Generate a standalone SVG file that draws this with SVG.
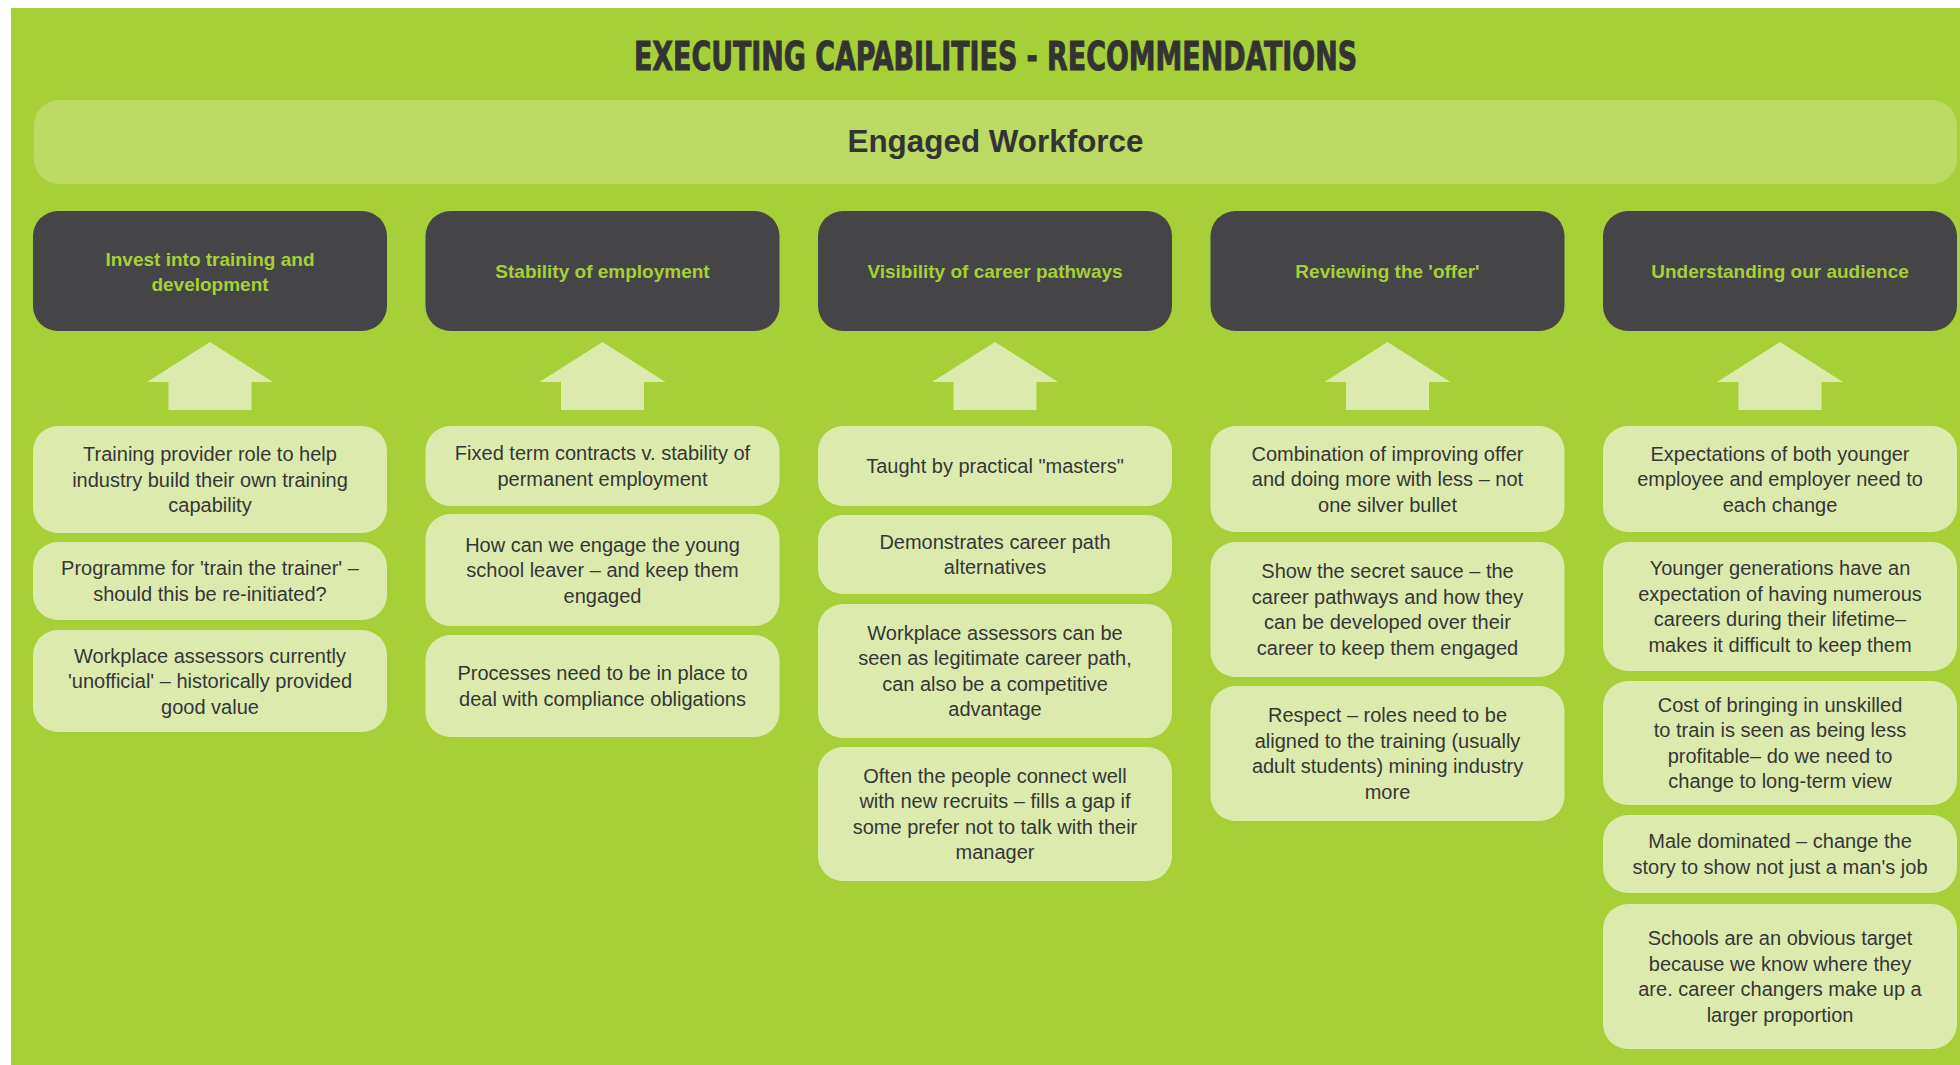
<svg xmlns="http://www.w3.org/2000/svg" xmlns:xlink="http://www.w3.org/1999/xlink" width="1960" height="1065" viewBox="0 0 1960 1065">
<style>
.bg{fill:#a6cf38}
.band{fill:#bbd963}
.hd{fill:#454547}
.lt{fill:#dcebad}
.arr{fill:#dcebad}
.title{font-family:"Liberation Sans Narrow","DejaVu Sans Condensed","Liberation Sans",sans-serif;font-weight:bold;font-size:39px;fill:#333333;stroke:#333333;stroke-width:0.9}
.band-t{font-family:"Liberation Sans",Arial,sans-serif;font-weight:bold;font-size:31px;fill:#333333}
.ht{font-family:"Liberation Sans",Arial,sans-serif;font-weight:bold;font-size:19px;fill:#a6cf38}
.bt{font-family:"Liberation Sans",Arial,sans-serif;font-size:20px;fill:#363636}
text{text-anchor:middle}
</style>
<defs>
<path id="up" d="M0,342 L63,382 L41.5,382 L41.5,410 L-41.5,410 L-41.5,382 L-63,382 Z"/>
</defs>
<rect x="0" y="0" width="1960" height="1065" fill="#ffffff"/>
<rect class="bg" x="11" y="8" width="1949" height="1057"/>
<g id="title">
<text class="title" x="995.5" y="70" textLength="723" lengthAdjust="spacingAndGlyphs">EXECUTING CAPABILITIES - RECOMMENDATIONS</text>
</g>
<g id="engaged-workforce">
<rect class="band" x="34" y="100" width="1923" height="84" rx="25"/>
<text class="band-t" x="995.5" y="152" textLength="296" lengthAdjust="spacingAndGlyphs">Engaged Workforce</text>
</g>
<g id="connectors">
<use xlink:href="#up" class="arr" x="210"/>
<use xlink:href="#up" class="arr" x="602.5"/>
<use xlink:href="#up" class="arr" x="995"/>
<use xlink:href="#up" class="arr" x="1387.5"/>
<use xlink:href="#up" class="arr" x="1780"/>
</g>
<g id="col1">
<g id="h1"><rect class="hd" x="33" y="211" width="354" height="120" rx="25"/>
<text class="ht" x="210" y="266">Invest into training and</text><text class="ht" x="210" y="291">development</text></g>
<g id="c1b1"><rect class="lt" x="33" y="426" width="354" height="107" rx="25"/>
<text class="bt" x="210" y="461">Training provider role to help</text>
<text class="bt" x="210" y="486.5">industry build their own training</text>
<text class="bt" x="210" y="512">capability</text></g>
<g id="c1b2"><rect class="lt" x="33" y="542" width="354" height="78" rx="25"/>
<text class="bt" x="210" y="575.3">Programme for 'train the trainer' –</text>
<text class="bt" x="210" y="600.8">should this be re-initiated?</text></g>
<g id="c1b3"><rect class="lt" x="33" y="630" width="354" height="102" rx="25"/>
<text class="bt" x="210" y="662.5">Workplace assessors currently</text>
<text class="bt" x="210" y="688">'unofficial' – historically provided</text>
<text class="bt" x="210" y="713.5">good value</text></g>
</g>
<g id="col2">
<g id="h2"><rect class="hd" x="425.5" y="211" width="354" height="120" rx="25"/>
<text class="ht" x="602.5" y="278">Stability of employment</text></g>
<g id="c2b1"><rect class="lt" x="425.5" y="426" width="354" height="80" rx="25"/>
<text class="bt" x="602.5" y="460.3">Fixed term contracts v. stability of</text>
<text class="bt" x="602.5" y="485.8">permanent employment</text></g>
<g id="c2b2"><rect class="lt" x="425.5" y="514" width="354" height="112" rx="25"/>
<text class="bt" x="602.5" y="551.5">How can we engage the young</text>
<text class="bt" x="602.5" y="577">school leaver – and keep them</text>
<text class="bt" x="602.5" y="602.5">engaged</text></g>
<g id="c2b3"><rect class="lt" x="425.5" y="635" width="354" height="102" rx="25"/>
<text class="bt" x="602.5" y="680.3">Processes need to be in place to</text>
<text class="bt" x="602.5" y="705.8">deal with compliance obligations</text></g>
</g>
<g id="col3">
<g id="h3"><rect class="hd" x="818" y="211" width="354" height="120" rx="25"/>
<text class="ht" x="995" y="278">Visibility of career pathways</text></g>
<g id="c3b1"><rect class="lt" x="818" y="426" width="354" height="80" rx="25"/>
<text class="bt" x="995" y="473">Taught by practical "masters"</text></g>
<g id="c3b2"><rect class="lt" x="818" y="515" width="354" height="79" rx="25"/>
<text class="bt" x="995" y="548.8">Demonstrates career path</text>
<text class="bt" x="995" y="574.3">alternatives</text></g>
<g id="c3b3"><rect class="lt" x="818" y="604" width="354" height="134" rx="25"/>
<text class="bt" x="995" y="639.8">Workplace assessors can be</text>
<text class="bt" x="995" y="665.3">seen as legitimate career path,</text>
<text class="bt" x="995" y="690.8">can also be a competitive</text>
<text class="bt" x="995" y="716.3">advantage</text></g>
<g id="c3b4"><rect class="lt" x="818" y="747" width="354" height="134" rx="25"/>
<text class="bt" x="995" y="782.8">Often the people connect well</text>
<text class="bt" x="995" y="808.3">with new recruits – fills a gap if</text>
<text class="bt" x="995" y="833.8">some prefer not to talk with their</text>
<text class="bt" x="995" y="859.3">manager</text></g>
</g>
<g id="col4">
<g id="h4"><rect class="hd" x="1210.5" y="211" width="354" height="120" rx="25"/>
<text class="ht" x="1387.5" y="278">Reviewing the 'offer'</text></g>
<g id="c4b1"><rect class="lt" x="1210.5" y="426" width="354" height="106" rx="25"/>
<text class="bt" x="1387.5" y="460.5">Combination of improving offer</text>
<text class="bt" x="1387.5" y="486">and doing more with less – not</text>
<text class="bt" x="1387.5" y="511.5">one silver bullet</text></g>
<g id="c4b2"><rect class="lt" x="1210.5" y="542" width="354" height="135" rx="25"/>
<text class="bt" x="1387.5" y="578.3">Show the secret sauce – the</text>
<text class="bt" x="1387.5" y="603.8">career pathways and how they</text>
<text class="bt" x="1387.5" y="629.3">can be developed over their</text>
<text class="bt" x="1387.5" y="654.8">career to keep them engaged</text></g>
<g id="c4b3"><rect class="lt" x="1210.5" y="686" width="354" height="135" rx="25"/>
<text class="bt" x="1387.5" y="722.3">Respect – roles need to be</text>
<text class="bt" x="1387.5" y="747.8">aligned to the training (usually</text>
<text class="bt" x="1387.5" y="773.3">adult students) mining industry</text>
<text class="bt" x="1387.5" y="798.8">more</text></g>
</g>
<g id="col5">
<g id="h5"><rect class="hd" x="1603" y="211" width="354" height="120" rx="25"/>
<text class="ht" x="1780" y="278">Understanding our audience</text></g>
<g id="c5b1"><rect class="lt" x="1603" y="426" width="354" height="106" rx="25"/>
<text class="bt" x="1780" y="460.5">Expectations of both younger</text>
<text class="bt" x="1780" y="486">employee and employer need to</text>
<text class="bt" x="1780" y="511.5">each change</text></g>
<g id="c5b2"><rect class="lt" x="1603" y="542" width="354" height="129" rx="25"/>
<text class="bt" x="1780" y="575.3">Younger generations have an</text>
<text class="bt" x="1780" y="600.8">expectation of having numerous</text>
<text class="bt" x="1780" y="626.3">careers during their lifetime–</text>
<text class="bt" x="1780" y="651.8">makes it difficult to keep them</text></g>
<g id="c5b3"><rect class="lt" x="1603" y="681" width="354" height="124" rx="25"/>
<text class="bt" x="1780" y="711.8">Cost of bringing in unskilled</text>
<text class="bt" x="1780" y="737.3">to train is seen as being less</text>
<text class="bt" x="1780" y="762.8">profitable– do we need to</text>
<text class="bt" x="1780" y="788.3">change to long-term view</text></g>
<g id="c5b4"><rect class="lt" x="1603" y="815" width="354" height="78" rx="25"/>
<text class="bt" x="1780" y="848.3">Male dominated – change the</text>
<text class="bt" x="1780" y="873.8">story to show not just a man's job</text></g>
<g id="c5b5"><rect class="lt" x="1603" y="904" width="354" height="145" rx="25"/>
<text class="bt" x="1780" y="945.3">Schools are an obvious target</text>
<text class="bt" x="1780" y="970.8">because we know where they</text>
<text class="bt" x="1780" y="996.3">are. career changers make up a</text>
<text class="bt" x="1780" y="1021.8">larger proportion</text></g>
</g>
</svg>
